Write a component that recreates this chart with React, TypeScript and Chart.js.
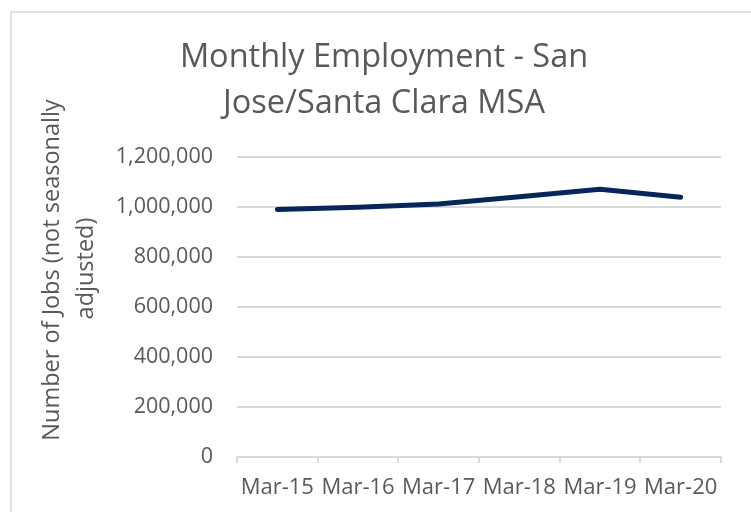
import React, { useEffect, useRef } from "react";
import { Chart, registerables } from "chart.js";

Chart.register(...registerables);

const categories = ["Mar-15", "Mar-16", "Mar-17", "Mar-18", "Mar-19", "Mar-20"];
const jobs = [990000, 999000, 1012000, 1041000, 1071000, 1039000];
const yTicks = [0, 200000, 400000, 600000, 800000, 1000000, 1200000];
const titleLines = ["Monthly Employment - San", "Jose/Santa Clara MSA"];
const yTitleLines = ["Number of Jobs (not seasonally", "adjusted)"];

const FONT = "'Open Sans', sans-serif";
const TEXT = "#595959";
const GRID = "#d9d9d9";

const decorPlugin = {
  id: "decor",
  beforeDraw(chart: any) {
    const ctx = chart.ctx;
    ctx.save();
    ctx.fillStyle = "#ffffff";
    ctx.fillRect(0, 0, chart.width, chart.height);
    ctx.strokeStyle = GRID;
    ctx.lineWidth = 1.5;
    ctx.strokeRect(11, 12, chart.width + 20, chart.height + 20);
    ctx.restore();
  },
  afterDraw(chart: any) {
    const ctx = chart.ctx;
    ctx.save();
    ctx.fillStyle = TEXT;
    ctx.textAlign = "center";
    ctx.textBaseline = "alphabetic";
    ctx.font = `32.5px ${FONT}`;
    ctx.fillText(titleLines[0], 384, 67);
    ctx.fillText(titleLines[1], 384, 113);
    ctx.font = `23.5px ${FONT}`;
    const yb = [59, 93];
    const yc = [270, 268.5];
    yTitleLines.forEach((t, i) => {
      ctx.save();
      ctx.translate(yb[i], yc[i]);
      ctx.rotate(-Math.PI / 2);
      ctx.fillText(t, 0, 0);
      ctx.restore();
    });
    ctx.restore();
  },
};

export default function App() {
  const ref = useRef<HTMLCanvasElement | null>(null);
  useEffect(() => {
    if (!ref.current) return;
    const chart = new Chart(ref.current, {
      type: "line",
      data: {
        labels: categories,
        datasets: [
          {
            data: jobs,
            borderColor: "#07265a",
            borderWidth: 5,
            borderCapStyle: "round",
            borderJoinStyle: "round",
            pointRadius: 0,
            tension: 0,
            fill: false,
          },
        ],
      },
      options: {
        animation: false,
        responsive: false,
        devicePixelRatio: 1,
        layout: { padding: { left: 0, right: 30, top: 157, bottom: 0 } },
        plugins: {
          legend: { display: false },
          title: { display: false },
          tooltip: { enabled: false },
        },
        scales: {
          x: {
            type: "category",
            offset: true,
            afterFit(scale: any) {
              scale.height = 55;
            },
            grid: {
              offset: true,
              drawOnChartArea: false,
              drawTicks: true,
              tickLength: 6,
              color: GRID,
              lineWidth: 2,
            },
            border: { display: true, color: GRID, width: 2 },
            ticks: {
              color: TEXT,
              font: { family: FONT, size: 22 },
              padding: 12,
              maxRotation: 0,
              autoSkip: false,
            },
          },
          y: {
            min: 0,
            max: 1200000,
            afterFit(scale: any) {
              scale.width = 237;
            },
            afterBuildTicks(scale: any) {
              scale.ticks = yTicks.map((v) => ({ value: v }));
            },
            grid: { color: GRID, lineWidth: 2, drawTicks: false },
            border: { display: false },
            ticks: {
              color: TEXT,
              font: { family: FONT, size: 21.5 },
              padding: 24,
              callback: (v: any) => Number(v).toLocaleString("en-US"),
            },
          },
        },
      },
      plugins: [decorPlugin],
    });
    return () => chart.destroy();
  }, []);
  return (
    <div style={{ position: "fixed", left: 0, top: 0, width: 751, height: 512 }}>
      <canvas ref={ref} width={751} height={512} style={{ width: 751, height: 512 }} />
    </div>
  );
}
